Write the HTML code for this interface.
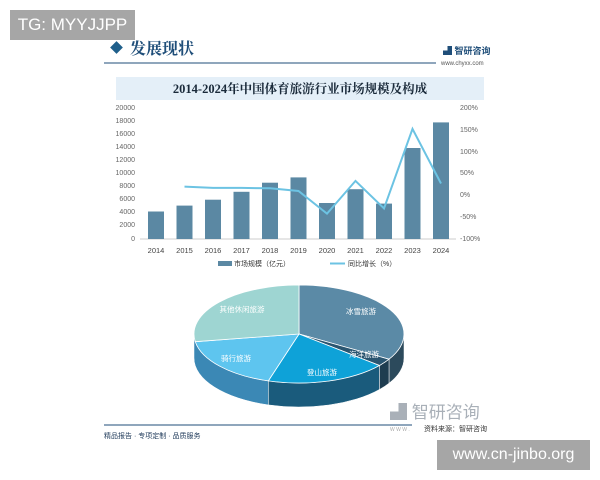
<!DOCTYPE html>
<html><head><meta charset="utf-8"><style>
body{margin:0;width:600px;height:480px;background:#fff;overflow:hidden;position:relative;font-family:"Liberation Sans","Noto Sans CJK SC",sans-serif}
.tag{position:absolute;background:#a6a6a6;color:#fff;font-size:17px;display:flex;align-items:center;justify-content:center}
</style></head><body>
<svg width="600" height="480" style="position:absolute;left:0;top:0" font-family="Liberation Sans, Noto Sans CJK SC, sans-serif">
<!-- header -->
<rect x="112" y="43" width="9" height="9" transform="rotate(45 116.5 47.5)" fill="#1f5f8b"/>
<text x="130" y="54" font-size="16" font-family="Liberation Serif, Noto Serif CJK SC, serif" font-weight="bold" fill="#1f4e79">发展现状</text>
<line x1="104" y1="63" x2="436" y2="63" stroke="#1f4e79" stroke-width="1"/>
<text x="443" y="54" font-size="9" fill="#1f4e79" font-weight="bold">▟ 智研咨询</text>
<text x="441" y="65" font-size="6" fill="#555">www.chyxx.com</text>
<!-- title band -->
<rect x="116" y="77" width="368" height="23" fill="#e4eff8"/>
<text x="300" y="93" font-size="12.5" text-anchor="middle" font-weight="bold" font-family="Liberation Serif, Noto Serif CJK SC, serif" fill="#1a2a3a">2014-2024年中国体育旅游行业市场规模及构成</text>
<!-- axes -->
<g font-size="7" fill="#666">
<text x="135" y="110" text-anchor="end">20000</text>
<text x="135" y="123" text-anchor="end">18000</text>
<text x="135" y="136" text-anchor="end">16000</text>
<text x="135" y="149" text-anchor="end">14000</text>
<text x="135" y="162" text-anchor="end">12000</text>
<text x="135" y="175" text-anchor="end">10000</text>
<text x="135" y="188" text-anchor="end">8000</text>
<text x="135" y="201" text-anchor="end">6000</text>
<text x="135" y="214" text-anchor="end">4000</text>
<text x="135" y="227" text-anchor="end">2000</text>
<text x="135" y="241" text-anchor="end">0</text>
<text x="460" y="110">200%</text>
<text x="460" y="132">150%</text>
<text x="460" y="154">100%</text>
<text x="460" y="175">50%</text>
<text x="460" y="197">0%</text>
<text x="460" y="219">-50%</text>
<text x="460" y="241">-100%</text>
</g>
<line x1="140" y1="239" x2="456" y2="239" stroke="#ccc"/>
<g fill="#5b88a3">
<rect x="148" y="211.5" width="16" height="27.5"/>
<rect x="176.5" y="205.6" width="16" height="33.4"/>
<rect x="205" y="199.7" width="16" height="39.3"/>
<rect x="233.5" y="191.8" width="16" height="47.2"/>
<rect x="262" y="182.7" width="16" height="56.3"/>
<rect x="290.5" y="177.4" width="16" height="61.6"/>
<rect x="319" y="203" width="16" height="36"/>
<rect x="347.5" y="189.2" width="16" height="49.8"/>
<rect x="376" y="203.6" width="16" height="35.4"/>
<rect x="404.5" y="148" width="16" height="91"/>
<rect x="433" y="122.4" width="16" height="116.6"/>
</g>
<polyline fill="none" stroke="#6cc3e3" stroke-width="2" points="184.5,186.6 213,187.9 241.5,187.9 270,188.3 298.5,191 327,213.6 355.5,180.9 384,208.4 412.5,128.9 441,183.5"/>
<g font-size="7.5" fill="#444" text-anchor="middle">
<text x="156" y="253">2014</text><text x="184.5" y="253">2015</text><text x="213" y="253">2016</text><text x="241.5" y="253">2017</text><text x="270" y="253">2018</text><text x="298.5" y="253">2019</text><text x="327" y="253">2020</text><text x="355.5" y="253">2021</text><text x="384" y="253">2022</text><text x="412.5" y="253">2023</text><text x="441" y="253">2024</text>
</g>
<rect x="218" y="261" width="14" height="5" fill="#5b88a3"/>
<text x="234" y="266" font-size="7" fill="#333">市场规模（亿元）</text>
<line x1="330" y1="263.5" x2="345" y2="263.5" stroke="#6cc3e3" stroke-width="2"/>
<text x="348" y="266" font-size="7" fill="#333">同比增长（%）</text>
<!-- pie sides -->
<g stroke="#fff" stroke-width="0.5">
<path d="M404,334 A105,49 0 0 1 389,359.2 L389,383.2 A105,49 0 0 0 404,358 Z" fill="#2c4a5c"/>
<path d="M389,359.2 A105,49 0 0 1 379.4,365.5 L379.4,389.5 A105,49 0 0 0 389,383.2 Z" fill="#1f3d50"/>
<path d="M379.4,365.5 A105,49 0 0 1 268.3,380.9 L268.3,404.9 A105,49 0 0 0 379.4,389.5 Z" fill="#1a5b7c"/>
<path d="M268.3,380.9 A105,49 0 0 1 194,334 L194,358 A105,49 0 0 0 268.3,404.9 Z" fill="#3b88b5"/>
</g>
<!-- pie top -->
<g stroke="#fff" stroke-width="0.8">
<path d="M299,334 L299,285 A105,49 0 0 1 389,359.2 Z" fill="#5b8aa6"/>
<path d="M299,334 L389,359.2 A105,49 0 0 1 379.4,365.5 Z" fill="#2a5570"/>
<path d="M299,334 L379.4,365.5 A105,49 0 0 1 268.3,380.9 Z" fill="#0ea2d8"/>
<path d="M299,334 L268.3,380.9 A105,49 0 0 1 195.3,341.7 Z" fill="#5ec5ef"/>
<path d="M299,334 L195.3,341.7 A105,49 0 0 1 299,285 Z" fill="#9ed5d2"/>
</g>
<g font-size="7.5" fill="#fff" text-anchor="middle">
<text x="361" y="314">冰雪旅游</text>
<text x="364" y="357">海洋旅游</text>
<text x="322" y="375">登山旅游</text>
<text x="236" y="361">骑行旅游</text>
<text x="242" y="312">其他休闲旅游</text>
</g>
<!-- footer -->
<text x="390" y="418" font-size="17" fill="#a9b0b8">▟ 智研咨询</text>
<line x1="104" y1="425" x2="412" y2="425" stroke="#1f4e79" stroke-width="1"/>
<text x="390" y="431" font-size="5" fill="#aaa">W W W .</text>
<text x="424" y="431" font-size="7" fill="#333">资料来源：智研咨询</text>
<text x="104" y="438" font-size="7" fill="#1f3a5a">精品报告 · 专项定制 · 品质服务</text>
</svg>
<div class="tag" style="left:10px;top:10px;width:125px;height:30px">TG: MYYJJPP</div>
<div class="tag" style="left:437px;top:440px;width:153px;height:30px;font-size:16px">www.cn-jinbo.org</div>
</body></html>
